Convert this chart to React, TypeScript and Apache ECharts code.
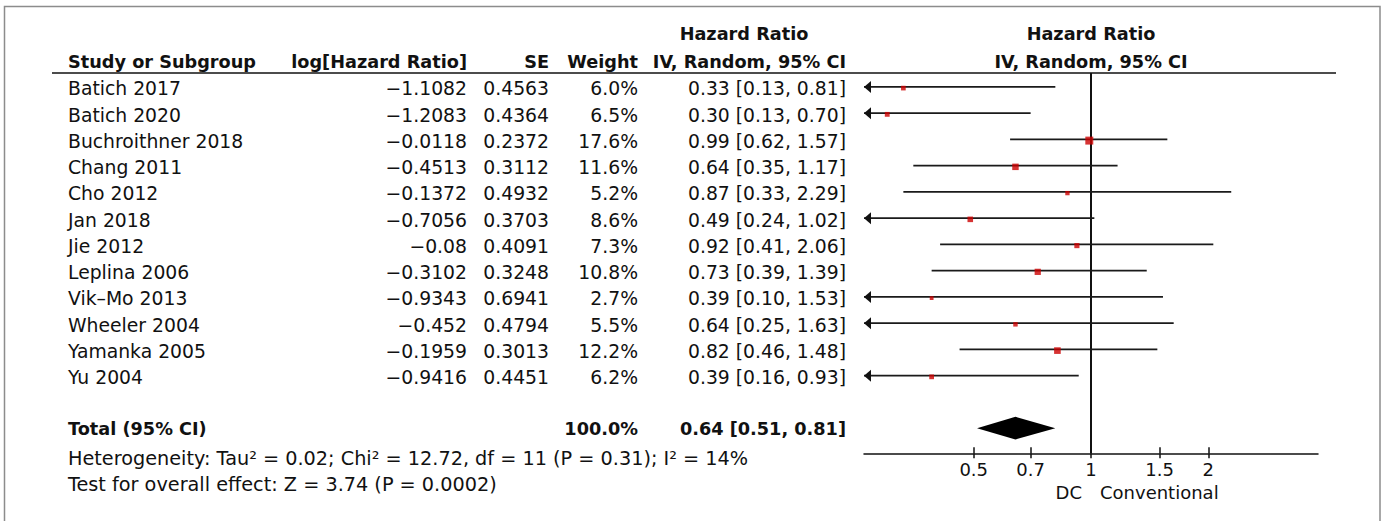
import React, { useEffect, useRef } from 'react';
import * as echarts from 'echarts';

// ---------------- data ----------------
const studies = [
  'Batich 2017', 'Batich 2020', 'Buchroithner 2018', 'Chang 2011', 'Cho 2012', 'Jan 2018',
  'Jie 2012', 'Leplina 2006', 'Vik–Mo 2013', 'Wheeler 2004', 'Yamanka 2005', 'Yu 2004',
];
const logHR = [-1.1082, -1.2083, -0.0118, -0.4513, -0.1372, -0.7056, -0.08, -0.3102, -0.9343, -0.452, -0.1959, -0.9416];
const seValues = ['0.4563', '0.4364', '0.2372', '0.3112', '0.4932', '0.3703', '0.4091', '0.3248', '0.6941', '0.4794', '0.3013', '0.4451'];
const weights = [6.0, 6.5, 17.6, 11.6, 5.2, 8.6, 7.3, 10.8, 2.7, 5.5, 12.2, 6.2];
const hr = [0.33, 0.30, 0.99, 0.64, 0.87, 0.49, 0.92, 0.73, 0.39, 0.64, 0.82, 0.39];
const ciLow = [0.13, 0.13, 0.62, 0.35, 0.33, 0.24, 0.41, 0.39, 0.10, 0.25, 0.46, 0.16];
const ciHigh = [0.81, 0.70, 1.57, 1.17, 2.29, 1.02, 2.06, 1.39, 1.53, 1.63, 1.48, 0.93];

const totalLabel = 'Total (95% CI)';
const totalWeight = 100.0;
const totalHR = 0.64;
const totalLow = 0.51;
const totalHigh = 0.81;

const tickValues = [0.5, 0.7, 1, 1.5, 2];
const heterogeneityText = 'Heterogeneity: Tau² = 0.02; Chi² = 12.72, df = 11 (P = 0.31); I² = 14%';
const overallEffectText = 'Test for overall effect: Z = 3.74 (P = 0.0002)';
const leftFavours = 'DC';
const rightFavours = 'Conventional';

// ---------------- layout ----------------
const FONT = 'DejaVu Sans';
const REG = 18.8;
const BOLD = 17.7;
const FOOT = 19.25;
const AXIS_FS = 18;
const TXT = '#111';

const ROW0 = 86.9;
const ROW_H = 26.25;
const TOTAL_ROW = 13;
const TEXT_DY = 2;
const HEADER_LINE_Y = 73;
const AXIS_Y = 453.3;
const X_MIN = -0.5825;
const X_MAX = 0.5825;
const GRID_LEFT = 864;
const GRID_WIDTH = 454;
const Y_MIN = (HEADER_LINE_Y - ROW0) / ROW_H;
const Y_MAX = (AXIS_Y - ROW0) / ROW_H;

const rowY = (i: number) => ROW0 + ROW_H * i;

const COL_STUDY = 68;
const COL_LOG = 467;
const COL_SE = 549;
const COL_W = 638;
const COL_CI = 846;

const fmtMinus = (v: number) => String(v).replace('-', '−');
const fmtCI = (m: number, l: number, h: number) => `${m.toFixed(2)} [${l.toFixed(2)}, ${h.toFixed(2)}]`;

function txt(text: string, x: number, y: number, align: string, bold = false, size?: number) {
  return {
    type: 'text',
    x,
    y,
    silent: true,
    style: {
      text,
      fill: TXT,
      fontFamily: FONT,
      fontSize: size ?? (bold ? BOLD : REG),
      fontWeight: bold ? 'bold' : 'normal',
      align,
      verticalAlign: 'middle',
    },
  };
}

export default function App() {
  const ref = useRef<HTMLDivElement>(null);

  useEffect(() => {
    document.body.style.margin = '0';
    if (!ref.current) return;
    const chart = echarts.init(ref.current, undefined, { renderer: 'svg' });

    const tickLogs = tickValues.map((t) => Math.log10(t));
    const centerX = GRID_LEFT + GRID_WIDTH / 2;
    const oneX = GRID_LEFT + ((0 - X_MIN) / (X_MAX - X_MIN)) * GRID_WIDTH;

    const graphics: any[] = [
      {
        type: 'rect',
        silent: true,
        shape: { x: 4.5, y: 6.5, width: 1375.5, height: 540 },
        style: { fill: 'none', stroke: '#8c8c8c', lineWidth: 1.5 },
      },
      {
        type: 'line',
        silent: true,
        shape: { x1: 52, y1: HEADER_LINE_Y, x2: 1336, y2: HEADER_LINE_Y },
        style: { stroke: TXT, lineWidth: 1.5 },
      },
      txt('Hazard Ratio', 744, 34, 'center', true),
      txt('Study or Subgroup', COL_STUDY, 62, 'left', true),
      txt('log[Hazard Ratio]', COL_LOG, 62, 'right', true),
      txt('SE', COL_SE, 62, 'right', true),
      txt('Weight', COL_W, 62, 'right', true),
      txt('IV, Random, 95% CI', COL_CI, 62, 'right', true),
      txt('Hazard Ratio', centerX, 34, 'center', true),
      txt('IV, Random, 95% CI', centerX, 62, 'center', true),
    ];

    studies.forEach((s, i) => {
      const y = rowY(i) + TEXT_DY;
      graphics.push(txt(s, COL_STUDY, y, 'left'));
      graphics.push(txt(fmtMinus(logHR[i]), COL_LOG, y, 'right'));
      graphics.push(txt(seValues[i], COL_SE, y, 'right'));
      graphics.push(txt(weights[i].toFixed(1) + '%', COL_W, y, 'right'));
      graphics.push(txt(fmtCI(hr[i], ciLow[i], ciHigh[i]), COL_CI, y, 'right'));
    });

    const ty = rowY(TOTAL_ROW) + 1;
    graphics.push(txt(totalLabel, COL_STUDY, ty, 'left', true));
    graphics.push(txt(totalWeight.toFixed(1) + '%', COL_W, ty, 'right', true));
    graphics.push(txt(fmtCI(totalHR, totalLow, totalHigh), COL_CI, ty, 'right', true));
    graphics.push(txt(heterogeneityText, COL_STUDY, ty + 29, 'left', false, FOOT));
    graphics.push(txt(overallEffectText, COL_STUDY, ty + 55, 'left', false, FOOT));
    graphics.push(txt(leftFavours, oneX - 9, 492, 'right', false, AXIS_FS));
    graphics.push(txt(rightFavours, oneX + 9, 492, 'left', false, AXIS_FS));

    const axisBase = {
      type: 'value',
      min: X_MIN,
      max: X_MAX,
      position: 'bottom',
      splitLine: { show: false },
    };

    chart.setOption({
      animation: false,
      backgroundColor: '#ffffff',
      grid: { left: GRID_LEFT, width: GRID_WIDTH, top: HEADER_LINE_Y, height: AXIS_Y - HEADER_LINE_Y },
      xAxis: [
        {
          ...axisBase,
          axisLine: { show: true, onZero: false, lineStyle: { color: TXT, width: 1.5 } },
          axisTick: { show: true, customValues: tickLogs, length: 5, lineStyle: { color: TXT, width: 1.5 } },
          axisLabel: {
            customValues: tickLogs,
            margin: 7,
            color: TXT,
            fontFamily: FONT,
            fontSize: AXIS_FS,
            formatter: (v: number) => String(parseFloat(Math.pow(10, v).toFixed(2))),
          },
        },
        {
          ...axisBase,
          axisLine: { show: false, onZero: false },
          axisTick: { show: true, inside: true, customValues: tickLogs, length: 6, lineStyle: { color: TXT, width: 1.5 } },
          axisLabel: { show: false },
        },
      ],
      yAxis: { type: 'value', min: Y_MIN, max: Y_MAX, inverse: true, show: false },
      graphic: graphics,
      series: [
        {
          type: 'custom',
          xAxisIndex: 0,
          yAxisIndex: 0,
          clip: false,
          data: studies.map((_, i) => [Math.log10(ciLow[i]), Math.log10(ciHigh[i]), i]),
          encode: { x: [0, 1], y: 2 },
          renderItem: (params: any, api: any) => {
            const lo = api.value(0);
            const hi = api.value(1);
            const row = api.value(2);
            const p1 = api.coord([Math.max(lo, X_MIN), row]);
            const p2 = api.coord([Math.min(hi, X_MAX), row]);
            const children: any[] = [
              {
                type: 'line',
                shape: { x1: p1[0], y1: p1[1], x2: p2[0], y2: p2[1] },
                style: { stroke: '#1a1a1a', lineWidth: 1.6 },
              },
            ];
            if (lo < X_MIN) {
              children.push({
                type: 'polygon',
                shape: { points: [[p1[0], p1[1]], [p1[0] + 7, p1[1] - 6], [p1[0] + 7, p1[1] + 6]] },
                style: { fill: '#111' },
              });
            }
            if (hi > X_MAX) {
              children.push({
                type: 'polygon',
                shape: { points: [[p2[0], p2[1]], [p2[0] - 7, p2[1] - 6], [p2[0] - 7, p2[1] + 6]] },
                style: { fill: '#111' },
              });
            }
            return { type: 'group', children };
          },
          z: 2,
        },
        {
          type: 'custom',
          xAxisIndex: 0,
          yAxisIndex: 0,
          data: [[Math.log10(totalLow), Math.log10(totalHR), Math.log10(totalHigh), TOTAL_ROW]],
          encode: { x: [0, 1, 2], y: 3 },
          renderItem: (params: any, api: any) => {
            const row = api.value(3);
            const l = api.coord([api.value(0), row]);
            const c = api.coord([api.value(1), row]);
            const r = api.coord([api.value(2), row]);
            return {
              type: 'polygon',
              shape: { points: [[l[0], l[1]], [c[0], c[1] - 11.3], [r[0], r[1]], [c[0], c[1] + 11.3]] },
              style: { fill: '#000' },
            };
          },
          z: 3,
        },
        {
          type: 'scatter',
          xAxisIndex: 0,
          yAxisIndex: 0,
          symbol: 'rect',
          symbolSize: (val: number[]) => Math.max(3.8, 1.9 * Math.sqrt(val[2])),
          symbolOffset: [0, 1.2],
          itemStyle: { color: '#cc0000' },
          data: studies.map((_, i) => [Math.log10(hr[i]), i, weights[i]]),
          z: 5,
          markLine: {
            silent: true,
            symbol: ['none', 'none'],
            label: { show: false },
            lineStyle: { color: '#111', width: 2, type: 'solid' },
            data: [{ xAxis: 0 }],
            z: 1,
          },
        },
      ],
    });

    return () => chart.dispose();
  }, []);

  return <div ref={ref} style={{ width: 1387, height: 521 }} />;
}
